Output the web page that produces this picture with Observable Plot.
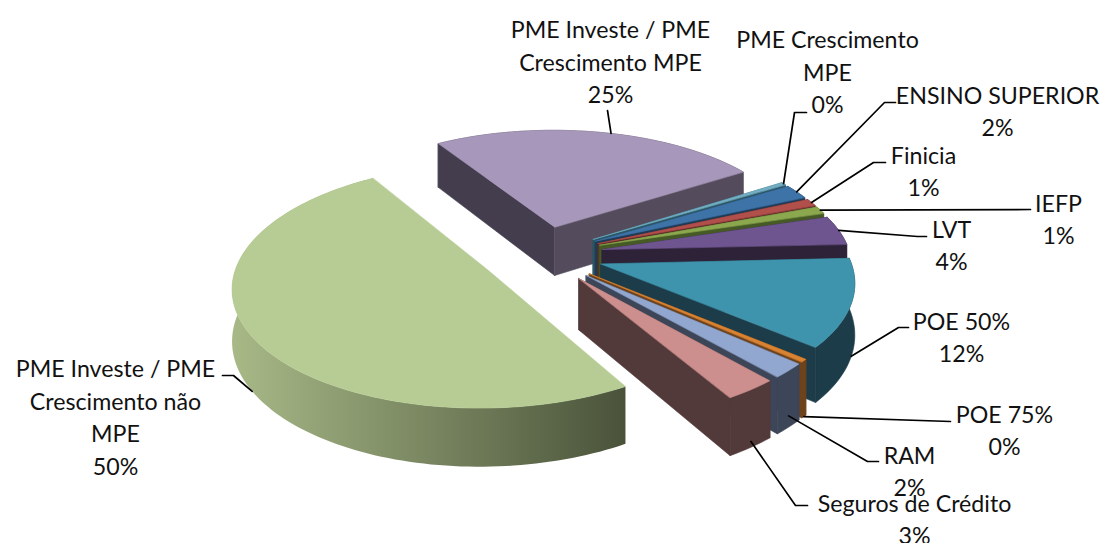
<!DOCTYPE html>
<html>
<head>
<meta charset="utf-8">
<script src="https://cdn.jsdelivr.net/npm/d3@7"></script>
<script src="https://cdn.jsdelivr.net/npm/@observablehq/plot@0.6"></script>
<style>
  html, body { margin: 0; padding: 0; background: #fff; }
  svg { display: block; }
</style>
</head>
<body>
<div id="chart"></div>
<script>
// Funding lines and their share of the total, clockwise from the upper-left edge.
const categories = [
  "PME Investe / PME\nCrescimento MPE",
  "PME Crescimento\nMPE",
  "ENSINO SUPERIOR",
  "Finicia",
  "IEFP",
  "LVT",
  "POE 50%",
  "POE 75%",
  "RAM",
  "Seguros de Crédito",
  "PME Investe / PME\nCrescimento não\nMPE"
];
const shares = [25, 0.4, 2, 1, 1, 4, 12, 0.4, 2, 3, 50];

const topColors = ["#a797bb", "#72afc4", "#3e73a8", "#b14f4b", "#8ba84f", "#6f5590", "#3f94ad", "#d98332", "#92a7cf", "#cd8f8d", "#b7cc94"];
const wallColors = ["#544c5c", "#2b5663", "#1f3a55", "#5a2826", "#465a25", "#2d2238", "#1b3c48", "#6e431c", "#3d4558", "#533a3a", "#4e5638"];
const backWallColor = "#433d4d";
const gradientEnds = ["#a8b987", "#4a533a"];

// Label placement: centre of each text block, and the elbow of its leader line.
const labelX = [610, 827, 997, 923, 1058, 951, 961, 1004, 909, 914, 115];
const labelY = [60, 70, 109, 169, 217, 243, 335, 428, 469, 517, 415];
const elbows = [
  [[607, 110]],
  [[794, 112], [806, 112]],
  [[884, 102], [895, 102]],
  [[873, 162], [885, 162]],
  [[1030, 209]],
  [[917, 236], [926, 236]],
  [[898, 327], [908, 327]],
  [[950, 421]],
  [[867, 461], [878, 461]],
  [[795, 505], [807, 505]],
  [[233, 375], [222, 375]]
];
// How far down the rim each leader line starts (0 = top face, 1 = base),
// and how many degrees it sits clockwise of the slice's middle.
const leaderDrop = [0, 0, 0, 0, 0, 0, 1, 1, 0.8, 0.9, 1];
const leaderTurn = [3, 0, 0, 0, 0, 0, 0, 0, 0, 0, 0];

// Tilted-disc projection: plane coordinates to page pixels with mild perspective.
const view = {cx: 541, cy: 254, rx: 248, ry: 116, depth: 50, persp: 0.13, explode: 0.25};
const project = (u, v, z) => {
  const s = 1 / (1 + view.persp * v);
  return [view.cx + view.rx * u * s, view.cy - view.ry * v * s + view.depth * z * s];
};
const rad = (d) => (d * Math.PI) / 180;

const total = d3.sum(shares);
let cursor = 122;
const slices = shares.map((value, i) => {
  const a0 = cursor;
  const a1 = a0 - (value / total) * 360;
  cursor = a1;
  const mid = (a0 + a1) / 2;
  return {i, a0, a1, mid, ox: view.explode * Math.cos(rad(mid)), oy: view.explode * Math.sin(rad(mid))};
});
const rim = (s, a, z) => project(s.ox + Math.cos(rad(a)), s.oy + Math.sin(rad(a)), z);
const apex = (s, z) => project(s.ox, s.oy, z);

// Each slice becomes closed polygons, painted back to front; the large slice's
// rim goes in its own list because it carries a gradient.
const faces = [];
const rimFace = [];
const lastFaces = [];
let faceId = 0;
const addFace = (list, points, fill) => {
  const face = faceId++;
  for (const [x, y] of points) list.push({x, y, face, fill});
};
const steps = (s) => Math.max(2, Math.ceil((s.a0 - s.a1) / 1.5));
for (const s of slices) {
  const n = steps(s);
  const angles = d3.range(n + 1).map((k) => s.a0 + ((s.a1 - s.a0) * k) / n);
  const isLast = s.i === shares.length - 1;
  const wall = wallColors[s.i];
  const band = [...angles.map((a) => rim(s, a, 0)), ...angles.slice().reverse().map((a) => rim(s, a, 1))];
  if (isLast) {
    addFace(rimFace, band, "rim");
    addFace(lastFaces, [apex(s, 0), ...angles.map((a) => rim(s, a, 0))], topColors[s.i]);
  } else {
    addFace(faces, band, wall);
    addFace(faces, [apex(s, 0), rim(s, s.a0, 0), rim(s, s.a0, 1), apex(s, 1)], s.i === 0 ? backWallColor : wall);
    addFace(faces, [apex(s, 0), rim(s, s.a1, 0), rim(s, s.a1, 1), apex(s, 1)], wall);
    addFace(faces, [apex(s, 0), ...angles.map((a) => rim(s, a, 0))], topColors[s.i]);
  }
}

// Leader lines run from the slice rim to the label elbow.
const leaders = slices.flatMap((s) => {
  const start = rim(s, s.mid - leaderTurn[s.i], leaderDrop[s.i]);
  return [start, ...elbows[s.i]].map(([x, y]) => ({x, y, slice: s.i}));
});

const labels = categories.map((name, i) => ({
  text: `${name}\n${Math.round(shares[i])}%`,
  x: labelX[i],
  y: labelY[i]
}));

// Left-to-right shading for the large slice's rim.
const rimGradient = () => {
  const xs = d3.extent(rimFace, (d) => d.x);
  const defs = d3.create("svg:defs");
  const grad = defs.append("linearGradient")
    .attr("id", "rim-shade")
    .attr("gradientUnits", "userSpaceOnUse")
    .attr("x1", xs[0]).attr("x2", xs[1]).attr("y1", 0).attr("y2", 0);
  grad.append("stop").attr("offset", 0).attr("stop-color", gradientEnds[0]);
  grad.append("stop").attr("offset", 1).attr("stop-color", gradientEnds[1]);
  return defs.node();
};

const polygons = (rows) => Plot.line(rows, {x: "x", y: "y", z: "face", fill: "fill", stroke: "fill", strokeWidth: 0.6, curve: "linear-closed"});

const chart = Plot.plot({
  width: 1101,
  height: 543,
  margin: 0,
  x: {domain: [0, 1101], axis: null},
  y: {domain: [543, 0], axis: null},
  color: {type: "identity"},
  marks: [
    rimGradient,
    polygons(faces),
    Plot.line(rimFace, {x: "x", y: "y", z: "face", fill: "url(#rim-shade)", curve: "linear-closed"}),
    polygons(lastFaces),
    Plot.line(leaders, {x: "x", y: "y", z: "slice", stroke: "#000", strokeWidth: 1.7}),
    Plot.text(labels, {
      x: "x",
      y: "y",
      text: "text",
      textAnchor: "middle",
      lineHeight: 1.4,
      fontSize: 23.2,
      fontFamily: "Lato",
      fill: "#111"
    })
  ]
});
document.getElementById("chart").append(chart);
</script>
</body>
</html>
